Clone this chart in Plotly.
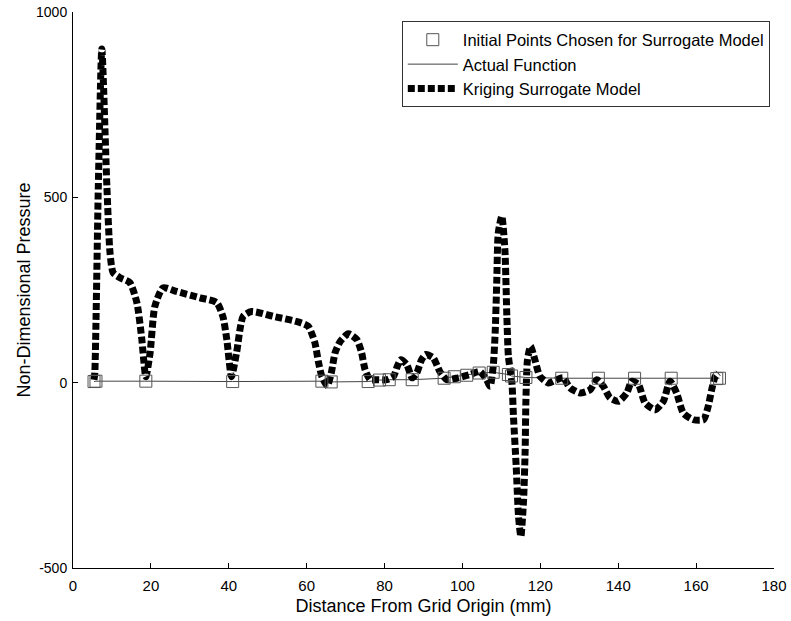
import plotly.graph_objects as go

# Sample locations (mm) and pressures of the initial design points
sample_x = [5.4, 5.9, 18.7, 41.0, 63.9, 66.3, 75.8, 78.7, 81.2, 87.1, 95.3, 97.9,
            101.1, 104.3, 107.9, 111.8, 112.6, 116.3, 125.5, 134.9, 144.2, 153.6,
            165.3, 166.0]
sample_p = [3, 4, 4, 3, 4, 2, 3, 7, 8, 8, 12, 16,
            20, 26, 28, 22, 18, 14, 12, 12, 12, 12,
            11, 12]

# Kriging surrogate prediction along the grid line
krig_x = [5.4, 5.6, 6.5, 7.4, 8.7, 9.5, 10.3, 12.1, 14.6, 16.4, 17.6, 18.7,
          19.8, 21.0, 23.1, 26.6, 32.6, 36.9, 38.5, 39.5, 40.7, 42.0, 43.7,
          45.9, 51.4, 57.4, 60.4, 62.1, 63.0, 63.9, 65.3, 66.3, 67.3, 68.6,
          70.7, 72.9, 74.1, 75.0, 76.3, 78.0, 80.6, 82.3, 83.3, 84.2, 85.7,
          87.1, 88.3, 89.5, 90.6, 92.5, 94.2, 96.0, 98.9, 102.0, 104.5, 106.2,
          107.1, 107.9, 108.4, 108.8, 109.2, 110.1, 110.9, 111.4, 111.8, 112.7,
          113.1, 113.8, 114.4, 115.0, 115.7, 116.1, 116.3, 116.7, 117.5, 118.6,
          119.9, 122.1, 124.2, 125.9, 127.6, 130.2, 132.8, 134.5, 136.2, 137.9,
          140.1, 142.2, 143.5, 145.2, 146.9, 149.5, 151.6, 153.3, 155.0, 156.7,
          159.3, 161.9, 163.1, 164.0, 164.9, 165.7]
krig_p = [8, 27, 529, 900, 529, 351, 297, 283, 270, 216, 124, 16,
          81, 205, 256, 246, 229, 216, 178, 116, 16, 81, 179,
          192, 179, 165, 152, 108, 57, 17, -8, 25, 81, 111,
          132, 116, 81, 35, 8, 8, 8, 17, 45, 62, 49,
          13, 27, 62, 76, 67, 30, 8, 13, 22, 30, 8,
          -10, 44, 134, 269, 404, 449, 359, 179, 71, 0,
          -91, -226, -361, -415, -316, -181, -46, 62, 98, 62,
          17, -1, 8, 13, -14, -28, -19, 8, -10, -41,
          -50, -28, 4, -5, -55, -73, -50, 4, -28, -82,
          -100, -100, -64, -19, 17, 26]

x_ticks = [0, 20, 40, 60, 80, 100, 120, 140, 160, 180]
y_ticks = [-500, 0, 500, 1000]
y_tick_text = ["-500", "0", "500", "1000"]

FONT = "Liberation Sans, Arial, sans-serif"

fig = go.Figure()

fig.add_trace(go.Scatter(
    x=sample_x, y=sample_p, mode="lines",
    name="Actual Function", legendrank=2,
    line=dict(color="#444444", width=1),
))

fig.add_trace(go.Scatter(
    x=krig_x, y=krig_p, mode="lines",
    name="Kriging Surrogate Model", legendrank=3,
    line=dict(color="black", width=7, dash="7px,3px", shape="spline",
              smoothing=0.6),
))

fig.add_trace(go.Scatter(
    x=sample_x, y=sample_p, mode="markers",
    name="Initial Points Chosen for Surrogate Model", legendrank=1,
    marker=dict(symbol="square-open", size=12, color="#555555",
                line=dict(width=1, color="#555555")),
))

fig.update_layout(
    width=791, height=621,
    margin=dict(l=73, r=17, t=12, b=53, autoexpand=False),
    paper_bgcolor="white", plot_bgcolor="white",
    font=dict(family=FONT, size=14, color="black"),
    showlegend=True,
    legend=dict(
        x=0.994, y=0.983, xanchor="right", yanchor="top",
        bgcolor="white", bordercolor="#333333", borderwidth=1,
        font=dict(family=FONT, size=16.5, color="black"),
        itemwidth=50,
    ),
    xaxis=dict(
        range=[0, 180], tickvals=x_ticks, ticks="inside", ticklen=5,
        tickcolor="black", showline=True, linecolor="black", linewidth=1,
        showgrid=False, zeroline=False, mirror=False, automargin=False,
        tickfont=dict(size=15), ticklabelstandoff=4,
        title=dict(text="Distance From Grid Origin (mm)",
                   font=dict(size=18), standoff=6),
    ),
    yaxis=dict(
        range=[-500, 1000], tickvals=y_ticks, ticktext=y_tick_text,
        ticks="inside", ticklen=5, tickcolor="black",
        showline=True, linecolor="black", linewidth=1,
        showgrid=False, zeroline=False, mirror=False, automargin=False,
        tickfont=dict(size=14), ticklabelstandoff=2,
        title=dict(text="Non-Dimensional Pressure",
                   font=dict(size=18), standoff=0),
    ),
)

fig.write_html("out.html")
